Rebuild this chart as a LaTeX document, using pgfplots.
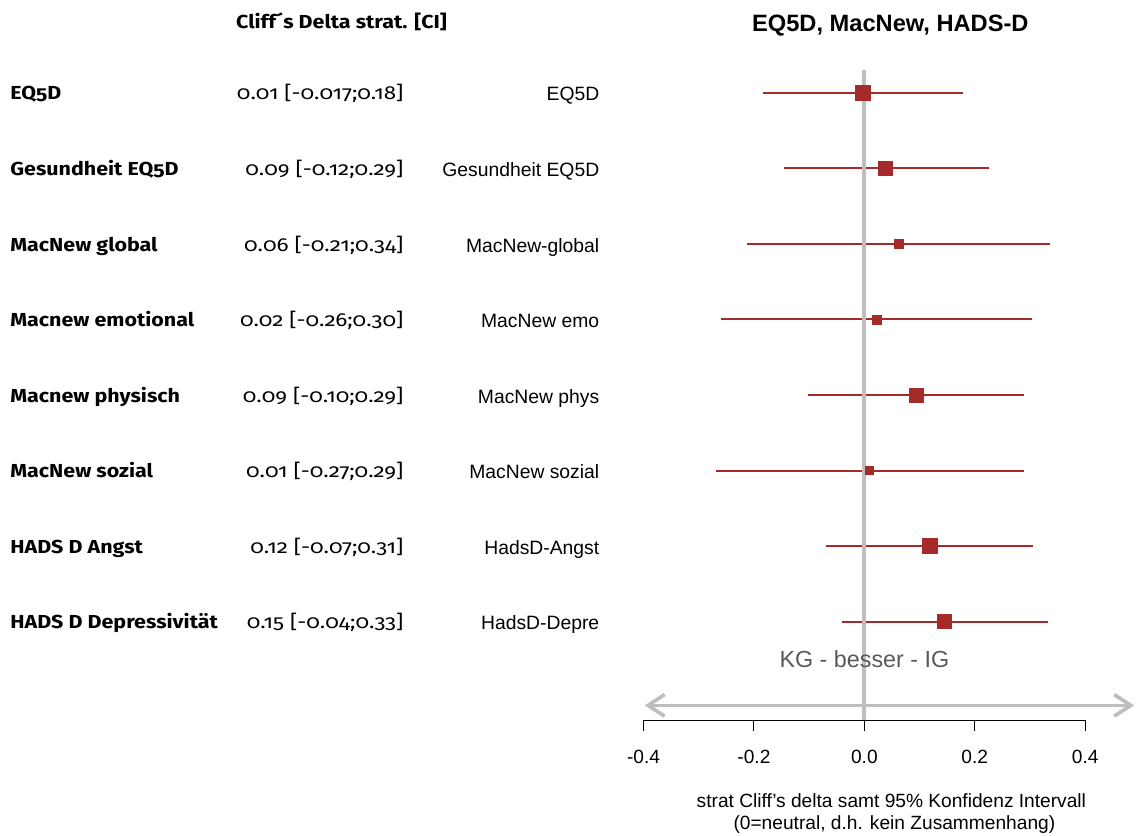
\documentclass[border=0pt]{standalone}
\usepackage{pgfplots}
\pgfplotsset{compat=1.18}
\usepackage{pgfplotstable}
\usepackage{fontspec}
\setmainfont{Liberation Sans}
\newfontfamily\cand{Fira Sans}[Numbers=OldStyle, FakeStretch=1.14]
\newfontfamily\candr{Fira Sans}[Numbers=OldStyle, FakeStretch=1.19]
\usetikzlibrary{arrows.meta}
\definecolor{cbrown}{HTML}{A52A2A}
\definecolor{cgray}{HTML}{BEBEBE}
\definecolor{ctext}{HTML}{595959}

\pgfplotstableread{
row est lo hi ms
1 -0.002 -0.183 0.179 4.5
2 0.038 -0.145 0.226 4.2
3 0.062 -0.212 0.337 2.7
4 0.022 -0.259 0.304 2.7
5 0.094 -0.103 0.290 4.2
6 0.009 -0.268 0.290 2.4
7 0.118 -0.069 0.306 4.5
8 0.145 -0.040 0.333 4.2
}\datatable

\begin{document}
\begin{tikzpicture}
\begin{scope}[x=0.6pt,y=-0.6pt]
\path[use as bounding box] (0,0) rectangle (1137,836);
\end{scope}
\begin{axis}[
  at={(386.4pt,-432.6pt)}, anchor=south west,
  scale only axis, width=265.2pt, height=422.14pt,
  xmin=-0.4, xmax=0.4, ymin=-9.31, ymax=0,
  axis x line*=bottom, axis y line=none,
  axis line style={black, line width=0.6pt},
  xtick={-0.4,-0.2,0,0.2,0.4},
  xticklabels={-0.4,-0.2,0.0,0.2,0.4},
  tick align=outside, major tick length=6.6pt,
  xtick style={black, line width=0.6pt},
  xticklabel style={font=\fontsize{11.5pt}{13pt}\selectfont, anchor=base, yshift=-19pt},
  clip=false,
]
\addplot[only marks, mark=none,
  error bars/.cd, x dir=both, x explicit, error mark=none,
  error bar style={cbrown, line width=1.2pt}]
  table[x=est, y expr=-\thisrow{row},
        x error plus expr=\thisrow{hi}-\thisrow{est},
        x error minus expr=\thisrow{est}-\thisrow{lo}] {\datatable};
\draw[cgray, line width=2.4pt] (axis cs:0,-0.70) -- (axis cs:0,-9.31);
\draw[cgray, line width=2.2pt, {Straight Barb[length=10pt,width=13pt]}-{Straight Barb[length=10pt,width=13pt]}]
  (axis cs:-0.398,-9.11) -- (axis cs:0.4887,-9.11);
\addplot[scatter, only marks, mark=square*,
  scatter/use mapped color={draw=cbrown, fill=cbrown},
  visualization depends on={\thisrow{ms} \as \msz},
  scatter/@pre marker code/.append style={/tikz/mark size=\msz pt}]
  table[x=est, y expr=-\thisrow{row}] {\datatable};
\end{axis}
\begin{scope}[x=0.6pt,y=-0.6pt]
\node[anchor=base, font=\bfseries\fontsize{14.2pt}{16pt}\selectfont, inner sep=0] at (891,32) {EQ5D, MacNew, HADS-D};
\node[anchor=base west, font=\cand\bfseries\fontsize{11.3pt}{13pt}\selectfont, inner sep=0] at (236,29) {Cliff´s Delta strat. [CI]};
\foreach \y/\a/\b/\c in {
  93/EQ5D/0.01 [-0.017;0.18]/EQ5D,
  169/Gesundheit EQ5D/0.09 [-0.12;0.29]/Gesundheit EQ5D,
  245/MacNew global/0.06 [-0.21;0.34]/MacNew-global,
  320/Macnew emotional/0.02 [-0.26;0.30]/MacNew emo,
  396/Macnew physisch/0.09 [-0.10;0.29]/MacNew phys,
  471/MacNew sozial/0.01 [-0.27;0.29]/MacNew sozial,
  547/HADS D Angst/0.12 [-0.07;0.31]/HadsD-Angst,
  622/HADS D Depressivität/0.15 [-0.04;0.33]/HadsD-Depre}{
  \node[anchor=base west, font=\cand\bfseries\fontsize{11.3pt}{13pt}\selectfont, inner sep=0] at (10,\y+6.5) {\a};
  \node[anchor=base east, font=\candr\fontsize{11.3pt}{13pt}\selectfont, inner sep=0] at (404,\y+6.5) {\b};
  \node[anchor=base east, font=\fontsize{11.6pt}{13pt}\selectfont, inner sep=0] at (600,\y+8) {\c};
}
\node[anchor=base, font=\fontsize{14pt}{16pt}\selectfont, text=ctext, inner sep=0] at (865,668) {KG - besser - IG};
\node[anchor=base, font=\fontsize{11.5pt}{13pt}\selectfont, inner sep=0] at (892,808) {strat Cliff's delta samt 95\% Konfidenz Intervall};
\node[anchor=base, font=\fontsize{11.5pt}{13pt}\selectfont, inner sep=0] at (895,830) {(0=neutral, d.h. kein Zusammenhang)};
\end{scope}
\end{tikzpicture}
\end{document}
